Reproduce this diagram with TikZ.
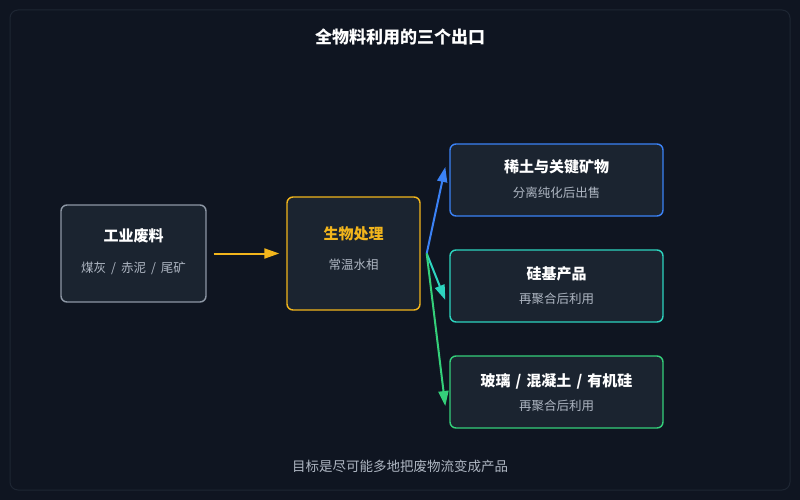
\documentclass[tikz,border=0pt]{standalone}
\usepackage{fontspec}
\setmainfont{Noto Sans CJK SC}
\usetikzlibrary{positioning,arrows.meta}
\definecolor{bgc}{HTML}{0F1521}
\definecolor{boxc}{HTML}{1B2430}
\definecolor{framec}{HTML}{1E2633}
\definecolor{greyc}{HTML}{8D97A5}
\definecolor{yelc}{HTML}{F2B51C}
\definecolor{bluec}{HTML}{3B82F6}
\definecolor{tealc}{HTML}{2DD4BF}
\definecolor{greenc}{HTML}{34D07A}
\definecolor{subc}{HTML}{AEB6C2}
\newcommand{\sep}{\hspace{5pt}/\hspace{5pt}}
\tikzset{
  card/.style={draw=#1,line width=1.4pt,fill=boxc,rounded corners=6pt,align=center,text=white},
  head/.style={font=\fontsize{15}{18}\selectfont\bfseries},
  sub/.style={font=\fontsize{12.5}{15}\selectfont,text=subc},
  flow/.style={-{Stealth[length=15pt,width=10pt,inset=0pt,fill=#1]},line width=2pt,draw=#1}
}
\begin{document}
\begin{tikzpicture}[x=1pt,y=-1pt]
\fill[bgc] (0,0) rectangle (800,500);
\draw[framec,line width=1pt,rounded corners=8pt] (10,10) rectangle (790,490);
\node[text=white,font=\fontsize{17}{20}\selectfont\bfseries] (title) at (400,37) {全物料利用的三个出口};
% boxes
\node[card=greyc,minimum width=145,minimum height=97] (waste) at (133.5,253.5) {};
\node[card=yelc,minimum width=133,minimum height=113] (bio) at (353.5,253.5) {};
\node[card=bluec,minimum width=213,minimum height=72] (rare) at (556.5,180) {};
\node[card=tealc,minimum width=213,minimum height=72] (si) at (556.5,286) {};
\node[card=greenc,minimum width=213,minimum height=72] (glass) at (556.5,392) {};
% texts
\node[head,text=white] at (133.5,236) {工业废料};
\node[sub] at (133.5,268) {煤灰\sep 赤泥\sep 尾矿};
\node[head,text=yelc] at (353.5,234) {生物处理};
\node[sub] at (353.5,265) {常温水相};
\node[head,text=white] at (556.5,167) {稀土与关键矿物};
\node[sub] at (556.5,193) {分离纯化后出售};
\node[head,text=white] at (556.5,274) {硅基产品};
\node[sub] at (556.5,299) {再聚合后利用};
\node[head,text=white] at (556.5,381) {玻璃\sep 混凝土\sep 有机硅};
\node[sub] at (556.5,406) {再聚合后利用};
\node[text=subc,font=\fontsize{13.5}{16}\selectfont] (goal) at (400,466) {目标是尽可能多地把废物流变成产品};
% connectors
\draw[flow=yelc] ([xshift=7]waste.east) -- ([xshift=-7]bio.west);
\coordinate (fork) at ([xshift=6]bio.east);
\draw[flow=bluec] (fork) -- ([xshift=-4,yshift=13]rare.west);
\draw[flow=tealc] (fork) -- ([xshift=-4,yshift=-14]si.west);
\draw[flow=greenc] (fork) -- ([xshift=-4,yshift=-14]glass.west);
\end{tikzpicture}
\end{document}
